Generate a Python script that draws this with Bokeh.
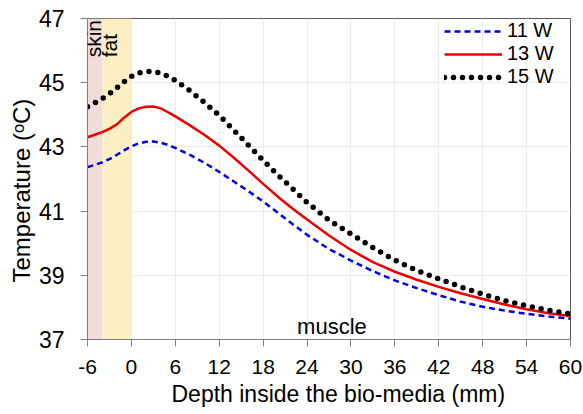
import math
from bokeh.plotting import figure
from bokeh.models import (Range1d, FixedTicker, BoxAnnotation, Label, Legend,
                          LegendItem, Title)
from bokeh.embed import file_html
from bokeh.resources import INLINE

# ---- data ----
depth = [-6, -5, -4, -3, -2, -1, 0, 1, 2, 3, 4, 5, 6, 8, 10, 12, 14, 16, 18,
         20, 22, 24, 27, 30, 33, 36, 39, 42, 45, 48, 51, 54, 57, 60]
temp_11w = [42.37, 42.44, 42.52, 42.62, 42.75, 42.89, 43.02, 43.11, 43.16, 43.17,
            43.13, 43.06, 42.97, 42.75, 42.50, 42.22, 41.92, 41.62, 41.30,
            40.95, 40.60, 40.26, 39.82, 39.46, 39.13, 38.84, 38.60, 38.38,
            38.18, 38.02, 37.90, 37.80, 37.72, 37.65]
temp_13w = [43.30, 43.38, 43.46, 43.56, 43.70, 43.91, 44.09, 44.20, 44.25, 44.26,
            44.20, 44.08, 43.95, 43.67, 43.37, 43.04, 42.66, 42.26, 41.85,
            41.45, 41.08, 40.74, 40.24, 39.79, 39.41, 39.11, 38.86, 38.64,
            38.44, 38.26, 38.09, 37.94, 37.82, 37.73]
temp_15w = [44.25, 44.37, 44.50, 44.66, 44.84, 45.03, 45.20, 45.30, 45.35, 45.35,
            45.30, 45.20, 45.07, 44.75, 44.38, 43.98, 43.52, 43.05, 42.58,
            42.13, 41.70, 41.27, 40.72, 40.29, 39.86, 39.47, 39.15, 38.89,
            38.64, 38.41, 38.21, 38.05, 37.91, 37.80]
series_labels = ["11 W", "13 W", "15 W"]

layers = ["skin", "fat"]
layer_start = [-6, -4]
layer_end = [-4, 0]
layer_colors = ["#f0dcdc", "#fdefc4"]

x_ticks = [-6, 0, 6, 12, 18, 24, 30, 36, 42, 48, 54, 60]
y_ticks = [37, 39, 41, 43, 45, 47]

FONT = "Liberation Sans"

p = figure(width=583, height=414, output_backend="svg", toolbar_location=None,
           x_range=Range1d(-6, 60), y_range=Range1d(37, 47),
           min_border_left=87, min_border_right=13, min_border_top=18,
           min_border_bottom=75, background_fill_color="white",
           border_fill_color="white")

p.outline_line_color = "#595959"
p.outline_line_width = 1

for ax, ticks in ((p.xaxis, x_ticks), (p.yaxis, y_ticks)):
    ax.ticker = FixedTicker(ticks=ticks)
    ax.major_label_text_font = FONT
    ax.major_label_text_color = "black"
    ax.major_tick_in = 0
    ax.major_tick_out = 7
    ax.minor_tick_line_color = None
    ax.axis_line_color = "#7f7f7f"
    ax.major_tick_line_color = "#7f7f7f"
p.xaxis.major_label_text_font_size = "21px"
p.yaxis.major_label_text_font_size = "23px"
p.xaxis.major_label_overrides = {-6: "-6"}
p.xaxis.major_label_standoff = 13
p.yaxis.major_label_standoff = 16

p.xgrid.ticker = FixedTicker(ticks=x_ticks)
p.ygrid.ticker = FixedTicker(ticks=y_ticks)
p.grid.grid_line_color = "#ececec"
p.grid.grid_line_width = 1

for name, s, e, c in zip(layers, layer_start, layer_end, layer_colors):
    p.add_layout(BoxAnnotation(left=s, right=e, fill_color=c, fill_alpha=1,
                               line_alpha=0, level="underlay"))

r11 = p.line(depth, temp_11w, line_color="#0000dd", line_width=2.5, line_dash="6 4")
r13 = p.line(depth, temp_13w, line_color="#ee0000", line_width=2.5)
r15 = p.line(depth, temp_15w, line_color="black", line_width=5.5,
             line_dash="0 9", line_cap="round")

legend = Legend(items=[LegendItem(label=series_labels[0], renderers=[r11]),
                       LegendItem(label=series_labels[1], renderers=[r13]),
                       LegendItem(label=series_labels[2], renderers=[r15])],
                location=(353, 247), border_line_alpha=0, background_fill_alpha=0,
                glyph_width=58, glyph_height=20, label_height=20, label_standoff=5,
                padding=4, spacing=0, margin=0,
                label_text_font=FONT, label_text_font_size="20px",
                label_text_color="black")
p.add_layout(legend)

for txt, xpos in zip(layers, [-5.2, -3.05]):
    p.add_layout(Label(x=xpos, y=45.79, text=txt, angle=math.pi / 2,
                       text_align="left", text_baseline="middle",
                       text_font=FONT, text_font_size="21px", text_color="black"))
p.add_layout(Label(x=27.4, y=37.4, text="muscle", text_align="center",
                   text_baseline="alphabetic", text_font=FONT,
                   text_font_size="22px", text_color="black"))

xt = Title(text="Depth inside the bio-media (mm)", align="left", offset=84,
           text_font=FONT, text_font_size="23px", text_font_style="normal",
           text_color="black", standoff=5)
p.add_layout(xt, "below")
yt = Title(text="Temperature (ᵒC)", align="left", offset=57,
           text_font=FONT, text_font_size="24px", text_font_style="normal",
           text_color="black", standoff=2)
p.add_layout(yt, "left")

open("out.html", "w").write(file_html(p, INLINE))
